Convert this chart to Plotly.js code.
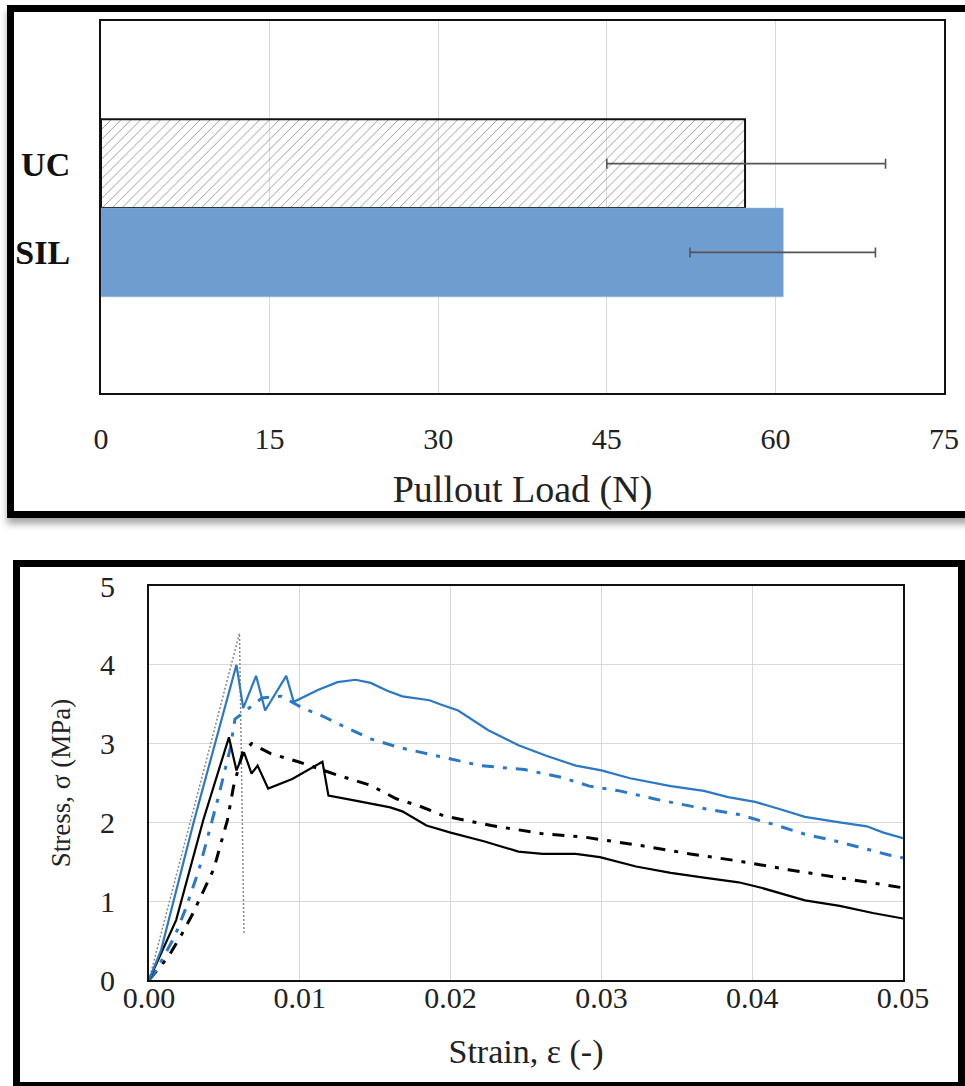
<!DOCTYPE html>
<html>
<head>
<meta charset="utf-8">
<script src="https://cdn.plot.ly/plotly-3.0.1.min.js"></script>
<style>
  html, body { margin: 0; padding: 0; background: #ffffff; overflow: hidden; }
  body { width: 965px; height: 1086px; position: relative; }
  .frame { position: absolute; box-sizing: border-box; border: 7px solid #000; background: #fff; }
  #pullout { left: 7px; top: 5px; width: 970px; height: 513px; box-shadow: 0 6px 7px rgba(0,0,0,0.35); }
  #stress { left: 13px; top: 560px; width: 952px; height: 529px; }
  .plot { position: absolute; left: 0; top: 0; }
</style>
</head>
<body>
<div id="pullout" class="frame"><div id="barPlot" class="plot"></div></div>
<div id="stress" class="frame"><div id="curvePlot" class="plot"></div></div>
<script>
// ---- Pullout load (N), mean with error range ----
const specimens = ['UC', 'SIL'];
const pulloutMean = [57.3, 60.7];
const pulloutErrPlus = [12.5, 8.2];
const pulloutErrMinus = [12.3, 8.3];
const loadTicks = [0, 15, 30, 45, 60, 75];

// ---- Stress-strain curves ----
const blueSolidStrain = [0, 0.0008, 0.003, 0.0058, 0.00625, 0.0071, 0.0077, 0.0091, 0.0096, 0.0112, 0.0125, 0.0137, 0.0147, 0.0158, 0.0168, 0.0186, 0.0193, 0.0205, 0.0225, 0.0245, 0.0263, 0.0283, 0.030, 0.0319, 0.0346, 0.0368, 0.0384, 0.0402, 0.0418, 0.0435, 0.0458, 0.0476, 0.0487, 0.050];
const blueSolidStress = [0, 0.38, 2.03, 4.0, 3.45, 3.86, 3.42, 3.86, 3.53, 3.68, 3.78, 3.81, 3.77, 3.67, 3.6, 3.55, 3.5, 3.42, 3.17, 2.98, 2.85, 2.72, 2.66, 2.56, 2.46, 2.40, 2.32, 2.26, 2.17, 2.07, 2.00, 1.95, 1.87, 1.80];

const blueDashStrain = [0, 0.0005, 0.0017, 0.0024, 0.0033, 0.0039, 0.0046, 0.0054, 0.0057, 0.0075, 0.0088, 0.0102, 0.0115, 0.0129, 0.0147, 0.0166, 0.0189, 0.022, 0.0249, 0.0274, 0.0292, 0.0312, 0.0337, 0.0361, 0.0391, 0.0415, 0.0435, 0.0456, 0.049, 0.050];
const blueDashStress = [0, 0.13, 0.55, 0.89, 1.39, 1.81, 2.32, 2.95, 3.31, 3.58, 3.6, 3.45, 3.35, 3.22, 3.06, 2.95, 2.85, 2.72, 2.67, 2.57, 2.46, 2.40, 2.29, 2.20, 2.10, 1.97, 1.85, 1.76, 1.59, 1.55];

const blackSolidStrain = [0, 0.0018, 0.0036, 0.0053, 0.0058, 0.0063, 0.0068, 0.0072, 0.0079, 0.0095, 0.0115, 0.0119, 0.0136, 0.016, 0.0168, 0.0184, 0.020, 0.0222, 0.0245, 0.0261, 0.0283, 0.0299, 0.0323, 0.0346, 0.0368, 0.0391, 0.0406, 0.0435, 0.0458, 0.048, 0.050];
const blackSolidStress = [0, 0.76, 2.03, 3.08, 2.66, 2.89, 2.62, 2.72, 2.43, 2.55, 2.77, 2.34, 2.28, 2.19, 2.14, 1.96, 1.87, 1.76, 1.63, 1.60, 1.60, 1.56, 1.44, 1.36, 1.30, 1.24, 1.17, 1.01, 0.94, 0.85, 0.78];

const blackDashStrain = [0, 0.0013, 0.0022, 0.0029, 0.0043, 0.0048, 0.0052, 0.0056, 0.0062, 0.0068, 0.0081, 0.0099, 0.0125, 0.0147, 0.0164, 0.0179, 0.0196, 0.0227, 0.026, 0.029, 0.0328, 0.0359, 0.0391, 0.0424, 0.0458, 0.0494, 0.050];
const blackDashStress = [0, 0.30, 0.59, 0.84, 1.41, 1.75, 2.03, 2.45, 2.88, 3.0, 2.87, 2.77, 2.60, 2.47, 2.30, 2.21, 2.08, 1.96, 1.86, 1.81, 1.70, 1.60, 1.51, 1.40, 1.30, 1.19, 1.17];

const refStrain = [0, 0.0060, 0.0063];
const refStress = [0, 4.4, 0.58];

const strainTicks = [0, 0.01, 0.02, 0.03, 0.04, 0.05];
const strainTickText = ['0.00', '0.01', '0.02', '0.03', '0.04', '0.05'];
const stressTicks = [0, 1, 2, 3, 4, 5];

const SERIF = 'Liberation Serif, Times New Roman, serif';
const GRID = '#d9d9d9';

// ---------- horizontal bar chart ----------
const barTraces = [
  {
    type: 'bar', orientation: 'h',
    x: [pulloutMean[0]], y: [specimens[0]],
    marker: {
      color: 'rgba(255,255,255,0)',
      line: { color: '#111', width: 2 },
      pattern: { shape: '/', fgcolor: '#9a9a9a', bgcolor: 'rgba(255,255,255,0)', size: 7, solidity: 0.14 }
    },
    error_x: { type: 'data', symmetric: false, array: [pulloutErrPlus[0]], arrayminus: [pulloutErrMinus[0]], color: '#555', thickness: 1.6, width: 5 },
    hoverinfo: 'skip'
  },
  {
    type: 'bar', orientation: 'h',
    x: [pulloutMean[1]], y: [specimens[1]],
    marker: { color: '#709dcf', line: { color: '#8db3dc', width: 0.5 } },
    error_x: { type: 'data', symmetric: false, array: [pulloutErrPlus[1]], arrayminus: [pulloutErrMinus[1]], color: '#555', thickness: 1.6, width: 5 },
    hoverinfo: 'skip'
  }
];

const barLayout = {
  width: 956, height: 499,
  margin: { l: 87, r: 26, t: 9, b: 118 },
  paper_bgcolor: '#ffffff', plot_bgcolor: '#ffffff',
  showlegend: false,
  barmode: 'overlay', bargap: 0,
  font: { family: SERIF, color: '#222' },
  xaxis: {
    range: [0, 75], tickvals: loadTicks, ticktext: loadTicks.map(String),
    showgrid: true, gridcolor: GRID, gridwidth: 1, zeroline: false,
    showline: true, mirror: true, linecolor: '#111', linewidth: 2,
    ticks: '', ticklabelstandoff: 18,
    tickfont: { family: SERIF, size: 30, color: '#222' },
    title: { text: 'Pullout Load (N)', font: { family: SERIF, size: 38, color: '#222' }, standoff: 22 }
  },
  yaxis: {
    type: 'category', categoryorder: 'array', categoryarray: ['SIL', 'UC'],
    range: [-1.584, 2.607],
    showgrid: false, zeroline: false,
    showline: true, mirror: true, linecolor: '#111', linewidth: 2,
    ticks: '', ticklabelstandoff: 22,
    tickfont: { family: SERIF, size: 34, color: '#111', weight: 'bold' }
  }
};

// ---------- stress-strain chart ----------
const curveTraces = [
  { x: refStrain, y: refStress, mode: 'lines', line: { color: '#8a8a8a', width: 1.5, dash: '2px,2px' } },
  { x: blackDashStrain, y: blackDashStress, mode: 'lines', line: { color: '#000', width: 3, dash: '12px,9px,4px,9px' } },
  { x: blueDashStrain, y: blueDashStress, mode: 'lines', line: { color: '#2a78c6', width: 3, dash: '12px,9px,4px,9px' } },
  { x: blackSolidStrain, y: blackSolidStress, mode: 'lines', line: { color: '#000', width: 2.2 } },
  { x: blueSolidStrain, y: blueSolidStress, mode: 'lines', line: { color: '#2a78c6', width: 2.2 } }
].map(t => Object.assign({ type: 'scatter', hoverinfo: 'skip' }, t));

const curveLayout = {
  width: 938, height: 515,
  margin: { l: 129, r: 55, t: 19, b: 102 },
  paper_bgcolor: '#ffffff', plot_bgcolor: '#ffffff',
  showlegend: false,
  font: { family: SERIF, color: '#222' },
  xaxis: {
    range: [0, 0.05], tickvals: strainTicks, ticktext: strainTickText,
    showgrid: true, gridcolor: GRID, gridwidth: 1, zeroline: false,
    showline: true, mirror: true, linecolor: '#111', linewidth: 2,
    ticks: '', ticklabelstandoff: -10,
    tickfont: { family: SERIF, size: 30, color: '#222' },
    title: { text: 'Strain, ε (-)', font: { family: SERIF, size: 34, color: '#222' }, standoff: 26 }
  },
  yaxis: {
    range: [0, 5], tickvals: stressTicks, ticktext: stressTicks.map(String),
    showgrid: true, gridcolor: GRID, gridwidth: 1, zeroline: false,
    showline: true, mirror: true, linecolor: '#111', linewidth: 2,
    ticks: '', ticklabelstandoff: 26,
    tickfont: { family: SERIF, size: 30, color: '#222' },
    title: { text: 'Stress, σ (MPa)', font: { family: SERIF, size: 27, color: '#222' }, standoff: 22 }
  }
};

const cfg = { staticPlot: true, displayModeBar: false };
Plotly.newPlot('barPlot', barTraces, barLayout, cfg);
Plotly.newPlot('curvePlot', curveTraces, curveLayout, cfg);
</script>
</body>
</html>
